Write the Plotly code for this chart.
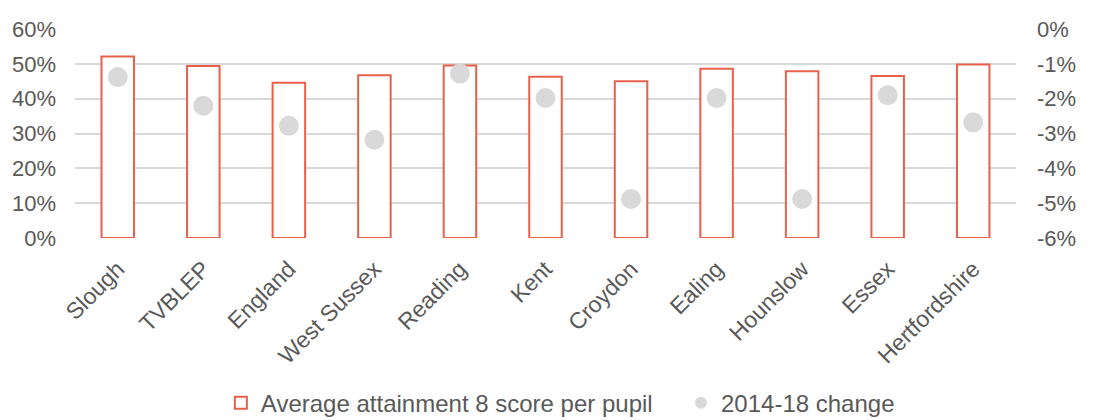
import plotly.graph_objects as go

categories = ["Slough", "TVBLEP", "England", "West Sussex", "Reading", "Kent",
              "Croydon", "Ealing", "Hounslow", "Essex", "Hertfordshire"]
attainment = [0.521, 0.494, 0.446, 0.467, 0.495, 0.463, 0.450, 0.486, 0.479, 0.465, 0.498]
change = [-0.0138, -0.022, -0.0278, -0.0318, -0.0128, -0.0198, -0.0488, -0.0198, -0.0488, -0.019, -0.0268]

left_ticks = [0, 0.1, 0.2, 0.3, 0.4, 0.5, 0.6]
left_text = ["0%", "10%", "20%", "30%", "40%", "50%", "60%"]
right_ticks = [0, -0.01, -0.02, -0.03, -0.04, -0.05, -0.06]
right_text = ["0%", "-1%", "-2%", "-3%", "-4%", "-5%", "-6%"]

RED = "#e8604c"
GREY = "#d9d9d9"
TXT = "#595959"
FONT = "Liberation Sans, Arial, sans-serif"

fig = go.Figure()
fig.add_trace(go.Bar(
    x=categories, y=attainment, name="Average attainment 8 score per pupil",
    marker=dict(color="white", line=dict(color=RED, width=2)),
    width=0.38, yaxis="y", legend="legend",
))
fig.add_trace(go.Scatter(
    x=categories, y=change, name="2014-18 change", mode="markers",
    marker=dict(color=GREY, size=20, symbol="circle"),
    yaxis="y2", legend="legend2",
))

legend_common = dict(orientation="h", xanchor="left", y=-0.79, yanchor="middle",
                     font=dict(size=24, color=TXT), itemsizing="constant",
                     itemwidth=30, bgcolor="rgba(0,0,0,0)")

fig.update_layout(
    width=1106, height=412,
    margin=dict(l=67, r=98, t=21, b=182, autoexpand=False),
    paper_bgcolor="white", plot_bgcolor="white",
    font=dict(family=FONT, size=22, color=TXT),
    showlegend=True,
    legend=dict(x=0.155, **legend_common),
    legend2=dict(x=0.644, **legend_common),
    xaxis=dict(range=[-0.5, 10.5], tickangle=-45, showgrid=False, showline=False,
               ticks="", automargin=False, ticklabelstandoff=12,
               tickfont=dict(size=23, color=TXT)),
    yaxis=dict(range=[0, 0.6], tickvals=left_ticks, ticktext=left_text,
               showgrid=True, gridcolor=GREY, gridwidth=1.5, zeroline=False,
               showline=False, ticks="", automargin=False, ticklabelstandoff=18,
               tickfont=dict(size=22, color=TXT)),
    yaxis2=dict(range=[-0.06, 0], tickvals=right_ticks, ticktext=right_text,
                overlaying="y", side="right", showgrid=False, zeroline=False,
                showline=False, ticks="", automargin=False, ticklabelstandoff=20,
                tickfont=dict(size=22, color=TXT)),
)

fig.write_html("out.html")
